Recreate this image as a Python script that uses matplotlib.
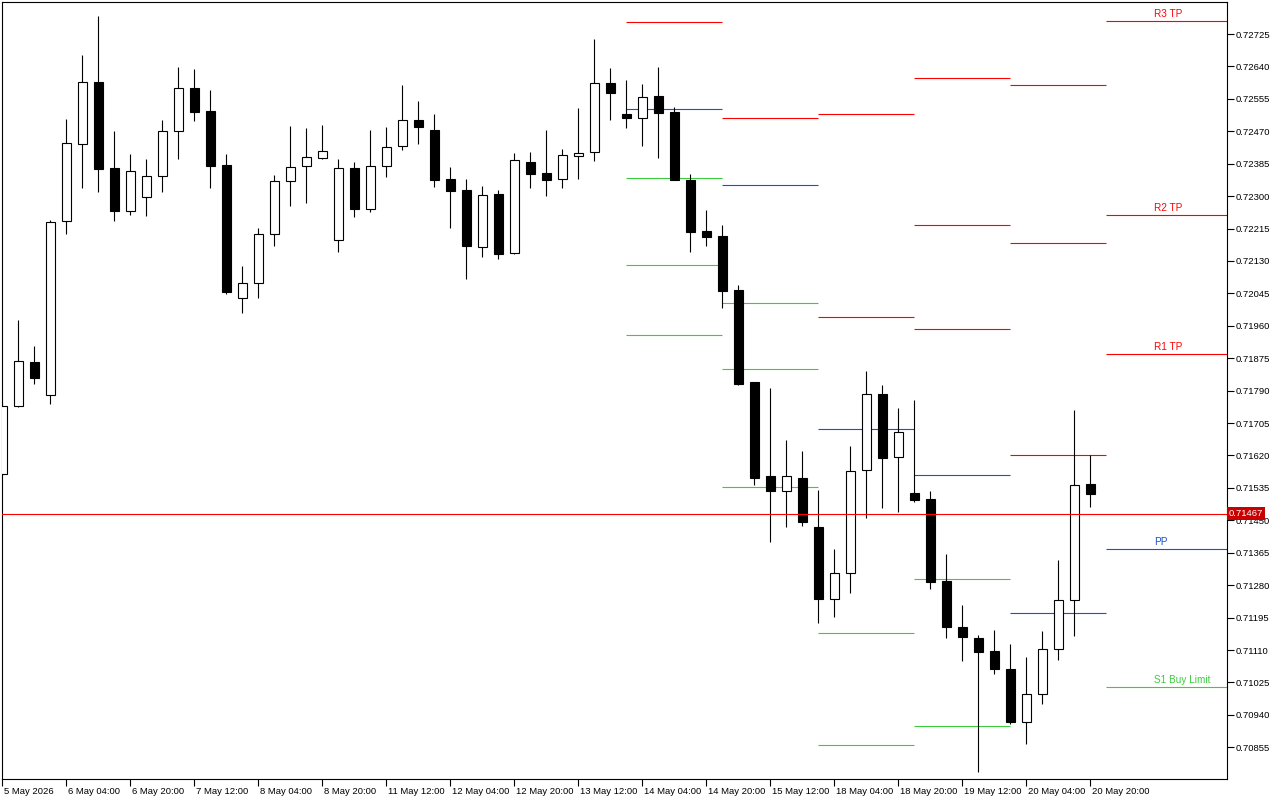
import numpy as np
import matplotlib.pyplot as plt
from matplotlib.transforms import ScaledTranslation

plt.rcParams['font.family'] = ['Liberation Sans', 'DejaVu Sans']

# Velas H4 (una por barra, 5 May 12:00 .. 20 May 20:00)
opens = [0.71572, 0.71749, 0.71864, 0.71778, 0.72234, 0.72436, 0.72598, 0.72373, 0.72262, 0.72297,
         0.72352, 0.72470, 0.72583, 0.72522, 0.72381, 0.72032, 0.72071, 0.72200, 0.72339, 0.72378,
         0.72399, 0.72184, 0.72373, 0.72267, 0.72378, 0.72431, 0.72499, 0.72473, 0.72344, 0.72315,
         0.72167, 0.72305, 0.72150, 0.72389, 0.72360, 0.72344, 0.72404, 0.72415, 0.72596, 0.72515,
         0.72506, 0.72562, 0.72521, 0.72342, 0.72209, 0.72195, 0.72054, 0.71812, 0.71566, 0.71528,
         0.71560, 0.71432, 0.71243, 0.71311, 0.71581, 0.71780, 0.71615, 0.71521, 0.71505, 0.71291,
         0.71170, 0.71141, 0.71108, 0.71060, 0.70921, 0.70994, 0.71112, 0.71240, 0.71545]
highs = [0.71760, 0.71975, 0.71907, 0.72237, 0.72502, 0.72670, 0.72772, 0.72471, 0.72410, 0.72397,
         0.72500, 0.72638, 0.72633, 0.72578, 0.72410, 0.72117, 0.72216, 0.72355, 0.72484, 0.72479,
         0.72486, 0.72397, 0.72389, 0.72473, 0.72481, 0.72591, 0.72549, 0.72515, 0.72376, 0.72345,
         0.72327, 0.72316, 0.72413, 0.72416, 0.72473, 0.72424, 0.72531, 0.72712, 0.72636, 0.72604,
         0.72594, 0.72638, 0.72534, 0.72358, 0.72264, 0.72224, 0.72067, 0.71812, 0.71796, 0.71661,
         0.71632, 0.71530, 0.71375, 0.71645, 0.71842, 0.71805, 0.71745, 0.71766, 0.71527, 0.71362,
         0.71228, 0.71149, 0.71163, 0.71126, 0.71092, 0.71160, 0.71346, 0.71739, 0.71620]
lows = [0.71565, 0.71747, 0.71808, 0.71756, 0.72201, 0.72322, 0.72312, 0.72236, 0.72251, 0.72249,
        0.72312, 0.72398, 0.72498, 0.72322, 0.72044, 0.71994, 0.72034, 0.72170, 0.72275, 0.72283,
        0.72396, 0.72154, 0.72246, 0.72259, 0.72351, 0.72422, 0.72437, 0.72325, 0.72217, 0.72084,
        0.72141, 0.72136, 0.72149, 0.72322, 0.72301, 0.72322, 0.72346, 0.72393, 0.72500, 0.72479,
        0.72432, 0.72401, 0.72343, 0.72154, 0.72170, 0.72007, 0.71806, 0.71543, 0.71394, 0.71433,
        0.71436, 0.71182, 0.71197, 0.71260, 0.71457, 0.71483, 0.71472, 0.71499, 0.71271, 0.71142,
        0.71082, 0.70791, 0.71048, 0.70916, 0.70864, 0.70969, 0.71085, 0.71148, 0.71486]
closes = [0.71750, 0.71867, 0.71824, 0.72231, 0.72438, 0.72598, 0.72372, 0.72262, 0.72365, 0.72352,
          0.72470, 0.72583, 0.72521, 0.72380, 0.72049, 0.72071, 0.72200, 0.72339, 0.72376, 0.72402,
          0.72418, 0.72373, 0.72267, 0.72378, 0.72428, 0.72499, 0.72482, 0.72343, 0.72314, 0.72170,
          0.72302, 0.72149, 0.72394, 0.72359, 0.72343, 0.72407, 0.72412, 0.72596, 0.72571, 0.72506,
          0.72559, 0.72519, 0.72343, 0.72207, 0.72194, 0.72052, 0.71808, 0.71562, 0.71528, 0.71566,
          0.71446, 0.71245, 0.71311, 0.71579, 0.71780, 0.71614, 0.71681, 0.71504, 0.71289, 0.71171,
          0.71145, 0.71106, 0.71061, 0.70922, 0.70994, 0.71112, 0.71240, 0.71542, 0.71520]

x_tick_labels = ['5 May 2026', '6 May 04:00', '6 May 20:00', '7 May 12:00', '8 May 04:00',
                 '8 May 20:00', '11 May 12:00', '12 May 04:00', '12 May 20:00', '13 May 12:00',
                 '14 May 04:00', '14 May 20:00', '15 May 12:00', '18 May 04:00', '18 May 20:00',
                 '19 May 12:00', '20 May 04:00', '20 May 20:00']

# Pivotes diarios: barra donde empieza cada dia y niveles (None = fuera del grafico)
pivot_start_bar = [39, 45, 51, 57, 63, 69]
r3 = [None, None, None, 0.72609, 0.72591, 0.72758]
r2 = [None, None, 0.72516, 0.72224, 0.72176, 0.72250]
r1 = [0.72756, 0.72504, 0.71982, 0.71951, 0.71621, 0.71886]
pp = [0.72528, 0.72328, 0.71689, 0.71568, 0.71206, 0.71374]
s1 = [0.72347, 0.72019, 0.71154, 0.71295, None, 0.71013]
s2 = [0.72119, 0.71846, 0.70860, 0.70910, None, None]
s3 = [0.71935, 0.71537, None, None, None, None]
last_day_labels = {'R3 TP': 0.72758, 'R2 TP': 0.72250, 'R1 TP': 0.71886,
                   'PP': 0.71374, 'S1 Buy Limit': 0.71013}

bid_price = 0.71467

RED = '#ff0000'
BLUE = '#1a50c8'
GREEN = '#3ccd3c'

fig = plt.figure(figsize=(12.8, 8), dpi=100)
ax = fig.add_axes([2 / 1280, 21 / 800, 1225 / 1280, 777 / 800])

x_min, x_max = -0.02, 76.54
ax.set_xlim(x_min, x_max)
ax.set_ylim(0.707719, 0.728089)

# Velas
o = np.array(opens)
c = np.array(closes)
x = np.arange(len(o))
up = c >= o
ax.vlines(x, lows, highs, color='black', linewidth=0.8, zorder=2)
ax.bar(x, np.abs(c - o), bottom=np.minimum(o, c), width=0.6,
       color=np.where(up, 'white', 'black'), edgecolor='black', linewidth=0.8, zorder=3)

# Niveles de pivote
levels = [(r3, RED), (r2, RED), (r1, RED), (pp, BLUE), (s1, GREEN), (s2, GREEN), (s3, GREEN)]
for i, start in enumerate(pivot_start_bar):
    end = pivot_start_bar[i + 1] if i + 1 < len(pivot_start_bar) else x_max
    for values, col in levels:
        if values[i] is not None:
            ax.hlines(values[i], start, end, color=col, linewidth=0.8, zorder=1)

label_colors = {'R3 TP': RED, 'R2 TP': RED, 'R1 TP': RED, 'PP': BLUE, 'S1 Buy Limit': GREEN}
lift = ScaledTranslation(0, 2 / 100, fig.dpi_scale_trans)
for name, val in last_day_labels.items():
    ax.text(72, val, name, color=label_colors[name], fontsize=7.2, ha='left', va='bottom',
            transform=ax.transData + lift)

# Linea de precio actual
ax.axhline(bid_price, color=RED, linewidth=0.8, zorder=4)
ax.text(1.0015, bid_price, f'{bid_price:.5f}', transform=ax.get_yaxis_transform(),
        color='white', fontsize=6.8, ha='left', va='center', zorder=10, clip_on=False,
        bbox=dict(boxstyle='square,pad=0.2', facecolor='#c80000', edgecolor='none'))

# Ejes
y_ticks = np.round(np.arange(0.70855, 0.72726, 0.00085), 5)
ax.set_yticks(y_ticks)
ax.set_yticklabels([f'{v:.5f}' for v in y_ticks])
ax.yaxis.tick_right()
ax.tick_params(axis='y', direction='out', length=5, width=0.8, pad=1, labelsize=6.8)

ax.set_xticks(np.arange(0, len(o), 4))
ax.set_xticklabels(x_tick_labels, ha='left')
ax.tick_params(axis='x', direction='out', length=5, width=0.8, pad=1, labelsize=6.8)
shift = ScaledTranslation(2 / 100, 0, fig.dpi_scale_trans)
for lab in ax.get_xticklabels():
    lab.set_transform(lab.get_transform() + shift)

for sp in ax.spines.values():
    sp.set_linewidth(0.8)
    sp.set_color('black')

plt.savefig('out.png', dpi=100)
